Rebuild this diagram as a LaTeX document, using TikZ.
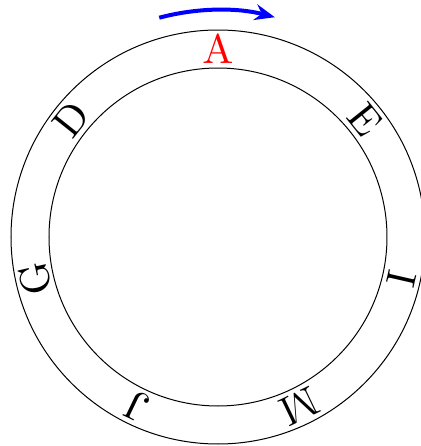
\documentclass[tikz,border=0pt]{standalone}
\usepackage{xcolor}
\usepackage{tikz}
\usetikzlibrary{arrows.meta,calc}
\font\ringrm=cmr10 at 20.7pt

\begin{document}
\begin{tikzpicture}[
  x=0.5pt, y=0.5pt,
  ring/.style={draw, line width=0.5pt},
  letter/.style={font=\ringrm, inner sep=0pt, anchor=center},
  turn/.style={-{Stealth[length=10pt, width=8pt]}, blue, line width=2pt}]
\useasboundingbox (0,0) rectangle (420,446);
\coordinate (ctr) at (218,209);
\draw[ring] (ctr) circle[radius=207];
\draw[ring] (ctr) circle[radius=169];
% letters on the ring, seven equal steps clockwise from the top
\node[letter, text=red] (la) at ($(ctr)+(90:188)$) {A};
\node[letter, rotate=-51.43] (le) at ($(ctr)+(38.57:188)$) {E};
\node[letter, rotate=-102.86] (li) at ($(ctr)+(-12.86:188)$) {I};
\node[letter, rotate=-154.29] (lm) at ($(ctr)+(-64.29:188)$) {M};
\node[letter, rotate=-205.71] (lj) at ($(ctr)+(-115.71:188)$) {J};
\node[letter, rotate=-257.14] (lg) at ($(ctr)+(-167.14:188)$) {G};
\node[letter, rotate=-308.57] (ld) at ($(ctr)+(141.43:188)$) {D};
% direction of turning
\coordinate (turnstart) at ($(ctr)+(105:227)$);
\draw[turn] (turnstart) arc[start angle=105, end angle=75.5, radius=227];
\end{tikzpicture}
\end{document}
